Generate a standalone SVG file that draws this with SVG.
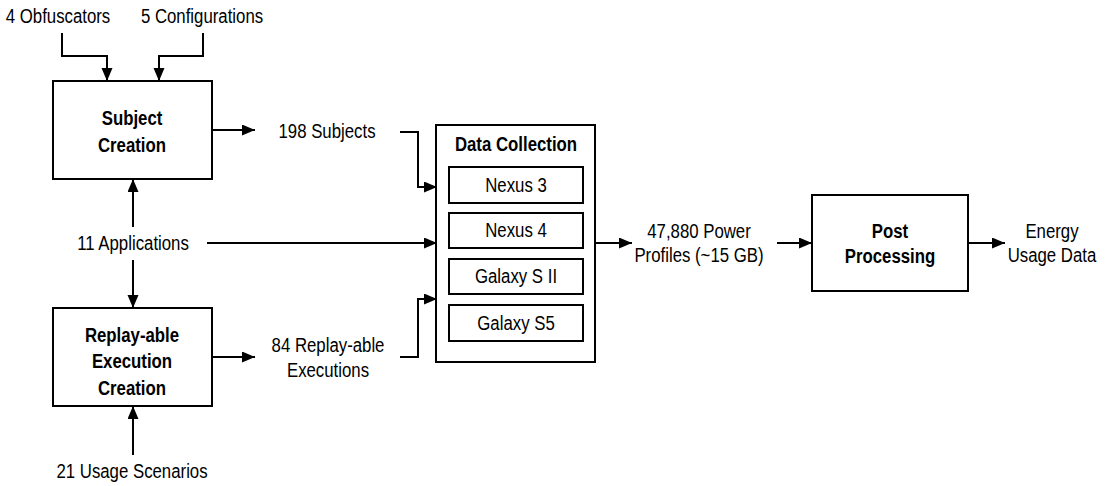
<svg xmlns="http://www.w3.org/2000/svg" width="1108" height="486" viewBox="0 0 1108 486">
<defs>
<marker id="ah" markerWidth="14" markerHeight="12" refX="13" refY="5.5" orient="auto" markerUnits="userSpaceOnUse">
<path d="M0,0 L13,5.5 L0,11 Z" fill="#000"/>
</marker>
<style>
text{font-family:"Liberation Sans Narrow","Liberation Sans",Arial,sans-serif;font-size:21px;fill:#000;text-anchor:middle}
.b{font-weight:bold}
.box{fill:#fff;stroke:#000;stroke-width:2}
.c{fill:none;stroke:#000;stroke-width:2;marker-end:url(#ah)}
</style>
</defs>
<rect width="1108" height="486" fill="#fff"/>
<g id="labels">
<text transform="translate(58,23) scale(0.8,1)">4 Obfuscators</text>
<text transform="translate(202,23) scale(0.8,1)">5 Configurations</text>
<text transform="translate(327,138) scale(0.8,1)">198 Subjects</text>
<text transform="translate(133,250) scale(0.8,1)">11 Applications</text>
<text transform="translate(328,352) scale(0.8,1)">84 Replay-able</text>
<text transform="translate(328,377) scale(0.8,1)">Executions</text>
<text transform="translate(132,478) scale(0.8,1)">21 Usage Scenarios</text>
<text transform="translate(699,238) scale(0.8,1)">47,880 Power</text>
<text transform="translate(699,262) scale(0.8,1)">Profiles (~15 GB)</text>
<text transform="translate(1052,238) scale(0.8,1)">Energy</text>
<text transform="translate(1052,262) scale(0.8,1)">Usage Data</text>
</g>
<g id="subject-creation">
<rect class="box" x="53" y="81" width="159" height="98"/>
<text class="b" transform="translate(132,125) scale(0.8,1)">Subject</text>
<text class="b" transform="translate(132,152) scale(0.8,1)">Creation</text>
</g>
<g id="replay-creation">
<rect class="box" x="53" y="308" width="159" height="98"/>
<text class="b" transform="translate(132,342) scale(0.8,1)">Replay-able</text>
<text class="b" transform="translate(132,368) scale(0.8,1)">Execution</text>
<text class="b" transform="translate(132,395) scale(0.8,1)">Creation</text>
</g>
<g id="data-collection">
<rect class="box" x="436" y="125" width="159" height="237"/>
<text class="b" transform="translate(516,151) scale(0.8,1)">Data Collection</text>
<rect class="box" x="449" y="167" width="134" height="36"/>
<text transform="translate(516,192) scale(0.8,1)">Nexus 3</text>
<rect class="box" x="449" y="213" width="134" height="35"/>
<text transform="translate(516,237) scale(0.8,1)">Nexus 4</text>
<rect class="box" x="449" y="259" width="134" height="35"/>
<text transform="translate(516,283) scale(0.8,1)">Galaxy S II</text>
<rect class="box" x="449" y="305" width="134" height="36"/>
<text transform="translate(516,330) scale(0.8,1)">Galaxy S5</text>
</g>
<g id="post-processing">
<rect class="box" x="812" y="195" width="156" height="96"/>
<text class="b" transform="translate(890,238) scale(0.8,1)">Post</text>
<text class="b" transform="translate(890,263) scale(0.8,1)">Processing</text>
</g>
<g id="connectors">
<path class="c" d="M62,33 V56 H107 V81"/>
<path class="c" d="M203,33 V56 H159 V81"/>
<path class="c" d="M212,130 H255"/>
<path class="c" d="M133,227 V179"/>
<path class="c" d="M133,260 V308"/>
<path class="c" d="M133,455 V406"/>
<path class="c" d="M212,357 H255"/>
<path class="c" d="M207,243 H437"/>
<path class="c" d="M400,132 H418 V187 H437"/>
<path class="c" d="M400,357 H418 V299 H437"/>
<path class="c" d="M595,243 H632"/>
<path class="c" d="M777,243 H812"/>
<path class="c" d="M968,243 H1005"/>
</g>
</svg>
